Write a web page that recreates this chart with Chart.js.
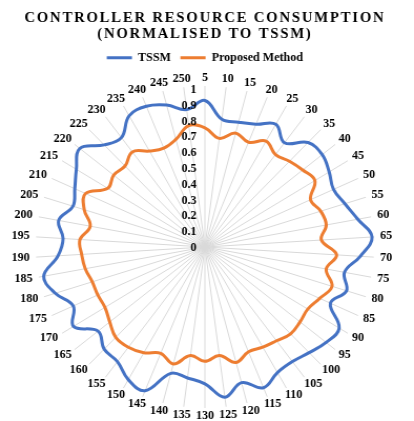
<!DOCTYPE html>
<html>
<head>
<meta charset="utf-8">
<script src="https://cdn.jsdelivr.net/npm/chart.js@4.4.1/dist/chart.umd.min.js"></script>
<style>
  html, body { margin: 0; padding: 0; background: #fff; }
  /* the source picture is a little wider than tall, so the canvas is stretched */
  #radarChart { display: block; width: 414px !important; height: 421px !important; }
</style>
</head>
<body>
<canvas id="radarChart" width="394" height="421"></canvas>
<script>
// scenario labels round the radar (5 .. 250)
const scenarios = ['5', '10', '15', '20', '25', '30', '35', '40', '45', '50',
  '55', '60', '65', '70', '75', '80', '85', '90', '95', '100',
  '105', '110', '115', '120', '125', '130', '135', '140', '145', '150',
  '155', '160', '165', '170', '175', '180', '185', '190', '195', '200',
  '205', '210', '215', '220', '225', '230', '235', '240', '245', '250'];

const tssm = [0.91, 0.80, 0.80, 0.82, 0.87, 0.80, 0.89, 0.90, 0.87, 0.84,
  0.87, 0.92, 0.99, 0.92, 0.84, 0.88, 0.82, 0.94, 0.93, 0.90,
  0.88, 0.89, 0.94, 0.87, 0.94, 0.85, 0.82, 0.81, 0.96, 0.94,
  0.88, 0.87, 0.82, 0.92, 0.86, 0.93, 0.97, 0.87, 0.84, 0.88,
  0.82, 0.85, 0.90, 0.96, 0.87, 0.84, 0.93, 0.94, 0.91, 0.86];

const proposed = [0.74, 0.68, 0.73, 0.70, 0.75, 0.71, 0.73, 0.75, 0.77, 0.69,
  0.72, 0.73, 0.69, 0.78, 0.73, 0.79, 0.75, 0.72, 0.73, 0.74,
  0.72, 0.71, 0.70, 0.74, 0.68, 0.71, 0.68, 0.75, 0.71, 0.75,
  0.77, 0.77, 0.73, 0.70, 0.70, 0.70, 0.72, 0.73, 0.74, 0.69,
  0.75, 0.78, 0.68, 0.70, 0.69, 0.73, 0.68, 0.66, 0.69, 0.76];

const radialTicks = [0, 0.1, 0.2, 0.3, 0.4, 0.5, 0.6, 0.7, 0.8, 0.9, 1];

const serif = "'Liberation Serif', 'Times New Roman', serif";
const labelFont = 'bold 11.5px ' + serif;

// excel-style labels: value labels left of the top spoke, category labels centred off the spoke ends
const radarLabels = {
  id: 'radarLabels',
  afterDatasetsDraw(chart) {
    const scale = chart.scales.r;
    const ctx = chart.ctx;
    ctx.save();
    ctx.font = labelFont;
    ctx.fillStyle = '#000';
    ctx.textBaseline = 'middle';

    ctx.textAlign = 'right';
    radialTicks.forEach(v => {
      const d = scale.getDistanceFromCenterForValue(v);
      ctx.fillText(String(v), scale.xCenter - 8, scale.yCenter - d + 1 + 3 * v);
    });

    ctx.textAlign = 'center';
    const h = 11.5;
    chart.data.labels.forEach((lab, i) => {
      const p = scale.getPointPosition(i, scale.drawingArea);
      const w = ctx.measureText(lab).width;
      const cx = p.x + Math.cos(p.angle) * (w / 2 + 6);
      const cy = p.y + Math.sin(p.angle) * (h / 2 + 2.5);
      ctx.fillText(lab, cx, cy);
    });
    ctx.restore();
  }
};

// spaced-out title letters
const titleSpacing = {
  id: 'titleSpacing',
  beforeDraw(chart) {
    const tb = chart.titleBlock;
    if (tb && !tb._spaced) {
      const orig = tb.draw.bind(tb);
      tb.draw = function (area) {
        const c = chart.ctx;
        c.save();
        c.letterSpacing = '1.7px';
        orig(area);
        c.restore();
      };
      tb._spaced = true;
    }
  }
};

// room between legend and the top category label
const legendGap = {
  id: 'legendGap',
  beforeLayout(chart) {
    const lg = chart.legend;
    if (lg && !lg._gap) {
      const f = lg.fit.bind(lg);
      lg.fit = function () { f(); this.height += 12; };
      lg._gap = true;
    }
  }
};

const radarConfig = {
  type: 'radar',
  data: {
    labels: scenarios,
    datasets: [
      {
        label: 'TSSM',
        data: tssm,
        borderColor: '#4472C4',
        backgroundColor: '#4472C4',
        borderWidth: 3,
        fill: false,
        tension: 0.4,
        pointRadius: 0
      },
      {
        label: 'Proposed Method',
        data: proposed,
        borderColor: '#ED7D31',
        backgroundColor: '#ED7D31',
        borderWidth: 3,
        fill: false,
        tension: 0.4,
        pointRadius: 0
      }
    ]
  },
  options: {
    responsive: false,
    animation: false,
    devicePixelRatio: 1,
    layout: { padding: { left: 0, right: 4, bottom: 12 } },
    plugins: {
      title: {
        display: true,
        text: ['CONTROLLER RESOURCE CONSUMPTION', '(NORMALISED TO TSSM)'],
        color: '#000',
        font: { family: serif, size: 14, weight: 'bold', lineHeight: '16px' },
        padding: { top: 10, bottom: 1 }
      },
      legend: {
        position: 'top',
        labels: {
          usePointStyle: true,
          pointStyle: 'line',
          pointStyleWidth: 24,
          color: '#000',
          font: { family: serif, size: 11.5, weight: 'bold', lineHeight: 1 },
          padding: 9
        }
      },
      tooltip: { enabled: false }
    },
    scales: {
      r: {
        min: 0,
        max: 1,
        ticks: { stepSize: 0.1, display: false },
        grid: { display: false },
        angleLines: { color: '#d9d9d9', lineWidth: 1 },
        pointLabels: { display: false }
      }
    }
  },
  plugins: [radarLabels, titleSpacing, legendGap]
};

const myRadarChart = new Chart(document.getElementById('radarChart'), radarConfig);
</script>
</body>
</html>
